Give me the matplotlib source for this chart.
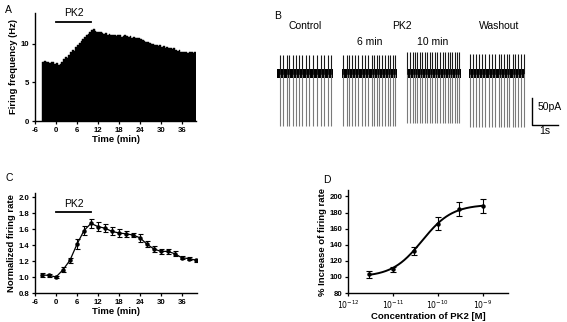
import numpy as np
import matplotlib.pyplot as plt

plt.rcParams['font.family'] = ['Liberation Sans', 'DejaVu Sans']
plt.rcParams['axes.unicode_minus'] = False

# Panel A: firing frequency histogram (0.5 min bins)
hist_start = -4.0
hist_bin = 0.5
hist_freq = [7.7, 7.8, 7.6, 7.7, 7.5, 7.7, 7.6, 7.4,
             7.5, 7.3, 7.4, 7.6, 8.0, 8.3, 8.2, 8.6,
             9.0, 9.2, 9.1, 9.6, 9.9, 10.1, 10.4, 10.6,
             10.9, 11.1, 11.3, 11.5, 11.8, 11.9, 11.7, 11.6,
             11.5, 11.6, 11.4, 11.3, 11.4, 11.2, 11.3, 11.2,
             11.1, 11.2, 11.0, 11.2, 11.1, 10.9, 11.0, 11.1,
             11.0, 10.9, 11.0, 10.8, 10.9, 10.8, 10.7, 10.8,
             10.6, 10.5, 10.4, 10.3, 10.2, 10.1, 10.0, 10.0,
             9.9, 9.8, 9.7, 9.8, 9.6, 9.7, 9.5, 9.6,
             9.5, 9.4, 9.3, 9.4, 9.2, 9.1, 9.2, 9.0,
             9.0, 8.9, 9.0, 8.8, 8.9, 8.9, 8.8, 8.9]
pk2_on = [0, 10]

# Panel B: spike times (s, relative to segment start)
trace_names = ['Control', '6 min', '10 min', 'Washout']
trace_start = [0.27, 2.77, 5.27, 7.65]
trace_len = [2.15, 2.11, 2.08, 2.12]
spikes_control = [0.12, 0.24, 0.37, 0.47, 0.60, 0.72, 0.83, 0.97, 1.12, 1.24,
                  1.40, 1.54, 1.68, 1.81, 1.95, 2.06]
spikes_6min = [0.05, 0.18, 0.27, 0.37, 0.50, 0.63, 0.76, 0.88, 1.01, 1.14,
               1.23, 1.33, 1.44, 1.55, 1.65, 1.76, 1.85, 1.95, 2.04]
spikes_10min = [0.01, 0.12, 0.22, 0.31, 0.40, 0.50, 0.59, 0.68, 0.78, 0.88,
                0.97, 1.08, 1.17, 1.27, 1.37, 1.46, 1.56, 1.65, 1.74, 1.85,
                1.94, 2.01]
spikes_wash = [0.05, 0.15, 0.28, 0.37, 0.50, 0.63, 0.76, 0.88, 1.01, 1.14,
               1.24, 1.36, 1.46, 1.56, 1.68, 1.78, 1.88, 2.01, 2.10]
spike_up = [34, 34, 40, 36]       # pA
spike_down = [-98, -98, -92, -99]  # pA
noise_band = 7.5                   # pA

# Panel C: normalized firing rate
c_time = [-4, -2, 0, 2, 4, 6, 8, 10, 12, 14, 16, 18, 20, 22, 24, 26, 28, 30,
          32, 34, 36, 38, 40]
c_rate = [1.025, 1.02, 1.00, 1.09, 1.21, 1.41, 1.58, 1.67, 1.63, 1.61, 1.57,
          1.55, 1.54, 1.525, 1.49, 1.41, 1.35, 1.32, 1.32, 1.29, 1.24, 1.23, 1.21]
c_err = [0.025, 0.02, 0.01, 0.03, 0.03, 0.06, 0.06, 0.06, 0.06, 0.05, 0.05,
         0.05, 0.04, 0.03, 0.05, 0.04, 0.04, 0.03, 0.03, 0.03, 0.02, 0.015, 0.02]

# Panel D: concentration response
d_conc = [3e-12, 1e-11, 3e-11, 1e-10, 3e-10, 1e-9]
d_resp = [103, 109.5, 132.5, 166, 184, 188]
d_err = [4.5, 3, 5, 8, 8.5, 8.5]
fit_bottom, fit_top, fit_logec50, fit_hill = 100, 190, -10.35, 1.3

W, H = 567, 322
fig = plt.figure(figsize=(W / 100, H / 100), dpi=100)


def px_axes(x0, y0, x1, y1):
    return fig.add_axes([x0 / W, 1 - y1 / H, (x1 - x0) / W, (y1 - y0) / H])


def style(ax):
    for s in ['top', 'right']:
        ax.spines[s].set_visible(False)
    for s in ['left', 'bottom']:
        ax.spines[s].set_linewidth(1.0)
    ax.tick_params(direction='out', length=2.5, width=0.9, labelsize=5.6, pad=1.5)
    for lab in ax.get_xticklabels() + ax.get_yticklabels():
        lab.set_fontweight('bold')


lab_kw = dict(fontsize=6.8, fontweight='bold')

# ---- A ----
axA = px_axes(35, 13, 196, 121)
left_edges = hist_start + hist_bin * np.arange(len(hist_freq))
axA.bar(left_edges, hist_freq, width=hist_bin, align='edge', color='black',
        edgecolor='black', linewidth=0.3)
axA.set_xlim(-6, 40)
axA.set_ylim(0, 14)
axA.set_xticks(range(-6, 40, 6))
axA.set_yticks([0, 5, 10])
style(axA)
axA.set_xlabel('Time (min)', labelpad=1, **lab_kw)
axA.set_ylabel('Firing frequency (Hz)', labelpad=2, **lab_kw)
axA.plot(pk2_on, [12.8, 12.8], color='black', lw=1.3, clip_on=False)
axA.text(np.mean(pk2_on), 13.4, 'PK2', ha='center', va='bottom', fontsize=7.5)

# ---- B ----
axB = px_axes(270, 0, 567, 160)
axB.set_axis_off()
px_per_s = 26.0
pa_per_px = 50 / 27.0
axB.set_xlim(0, 297 / px_per_s)
axB.set_ylim(-(160 - 73.5) * pa_per_px, 73.5 * pa_per_px)
all_spikes = [spikes_control, spikes_6min, spikes_10min, spikes_wash]
for i in range(4):
    t0 = trace_start[i]
    t = t0 + np.array(all_spikes[i])
    axB.vlines(t, 0, spike_down[i], color='#7a7a7a', lw=0.8)
    axB.vlines(t, 0, spike_up[i], color='#1a1a1a', lw=0.8)
    axB.fill_between([t0, t0 + trace_len[i]], -noise_band, noise_band,
                     color='black', lw=0)
# scale bar 50 pA / 1 s
sb_x, sb_y = 10.08, -95
axB.plot([sb_x, sb_x, sb_x + 1], [sb_y + 50, sb_y, sb_y], color='black', lw=1.0)
axB.text(sb_x + 0.2, sb_y + 33, '50pA', fontsize=7.5, va='center', ha='left')
axB.text(sb_x + 0.5, sb_y - 12, '1s', fontsize=7.5, va='center', ha='center')
fig.text(305 / W, 1 - 26 / H, 'Control', fontsize=7.5, ha='center', va='center')
fig.text(402 / W, 1 - 26 / H, 'PK2', fontsize=7.5, ha='center', va='center')
fig.text(499 / W, 1 - 26 / H, 'Washout', fontsize=7.5, ha='center', va='center')
fig.text(370 / W, 1 - 42 / H, '6 min', fontsize=7.5, ha='center', va='center')
fig.text(433 / W, 1 - 42 / H, '10 min', fontsize=7.5, ha='center', va='center')

# ---- C ----
axC = px_axes(35, 193, 197, 293)
axC.errorbar(c_time, c_rate, yerr=c_err, color='black', lw=0.9, marker='o',
             ms=2.2, capsize=1.8, elinewidth=0.8, capthick=0.8)
axC.set_xlim(-6, 40.3)
axC.set_ylim(0.8, 2.05)
axC.set_xticks(range(-6, 40, 6))
axC.set_yticks(np.arange(0.8, 2.01, 0.2))
axC.set_yticklabels(['%.1f' % v for v in np.arange(0.8, 2.01, 0.2)])
style(axC)
axC.set_xlabel('Time (min)', labelpad=1, **lab_kw)
axC.set_ylabel('Normalized firing rate', labelpad=2, **lab_kw)
axC.plot(pk2_on, [1.81, 1.81], color='black', lw=1.3)
axC.text(np.mean(pk2_on), 1.85, 'PK2', ha='center', va='bottom', fontsize=7.5)

# ---- D ----
axD = px_axes(348, 190, 508, 293)
axD.set_xscale('log')
xs = np.logspace(np.log10(d_conc[0]), np.log10(d_conc[-1]), 200)
fit = fit_bottom + (fit_top - fit_bottom) / (1 + (10 ** fit_logec50 / xs) ** fit_hill)
axD.plot(xs, fit, color='black', lw=1.4)
axD.errorbar(d_conc, d_resp, yerr=d_err, fmt='o', color='black', ms=2.2,
             capsize=2, elinewidth=0.8, capthick=0.8)
axD.set_xlim(1e-12, 10 ** -8.44)
axD.set_ylim(80, 208)
axD.set_xticks([1e-12, 1e-11, 1e-10, 1e-9])
axD.set_xticklabels([r'$10^{-12}$', r'$10^{-11}$', r'$10^{-10}$', r'$10^{-9}$'])
axD.xaxis.set_minor_locator(plt.NullLocator())
axD.set_yticks(range(80, 201, 20))
style(axD)
axD.set_xlabel('Concentration of PK2 [M]', labelpad=1, **lab_kw)
axD.set_ylabel('% Increase of firing rate', labelpad=2, **lab_kw)

# panel letters
for letter, x, y in [('A', 5, 10), ('B', 274, 16), ('C', 5, 178), ('D', 323, 180)]:
    fig.text(x / W, 1 - y / H, letter, fontsize=7.5, ha='left', va='center')

fig.savefig('out.png', dpi=100)
